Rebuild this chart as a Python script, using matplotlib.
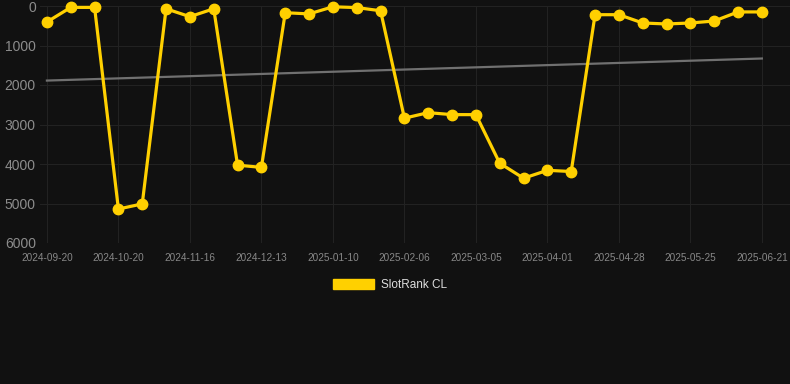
import numpy as np
import matplotlib
matplotlib.use("Agg")
import matplotlib.pyplot as plt
from matplotlib.patches import Patch

# Rank values (lower = better), one per observation
ranks = [405, 35, 35, 5140, 5010, 70, 270, 70, 4030, 4085,
         170, 200, 20, 40, 120, 2840, 2700, 2750, 2750, 3980,
         4360, 4160, 4190, 220, 220, 430, 455, 430, 380, 150, 150]
date_labels = ["2024-09-20", "2024-10-20", "2024-11-16", "2024-12-13",
               "2025-01-10", "2025-02-06", "2025-03-05", "2025-04-01",
               "2025-04-28", "2025-05-25", "2025-06-21"]
label_every = 3
y_ticks = [0, 1000, 2000, 3000, 4000, 5000, 6000]
series_name = "SlotRank CL"

BG = "#111111"
GOLD = "#FFD000"

plt.rcParams["font.family"] = ["Liberation Sans", "DejaVu Sans"]

fig = plt.figure(figsize=(7.9, 3.84), dpi=100, facecolor=BG)
ax = fig.add_axes([40 / 790, 1 - 243 / 384, 750 / 790, 237 / 384])
ax.set_facecolor(BG)

x = np.arange(len(ranks))
y = np.array(ranks, dtype=float)

# trend line (linear fit)
k, b = np.polyfit(x, y, 1)
ax.plot(x, k * x + b, color="#707070", lw=1.6, zorder=2)

ax.plot(x, y, color=GOLD, lw=2.3, marker="o", markersize=7.5,
        markerfacecolor=GOLD, markeredgecolor=GOLD, zorder=3, clip_on=False)

ax.set_ylim(6000, 0)
ax.set_xlim(-0.29, 31.18)
ax.set_yticks(y_ticks)
ax.set_yticklabels([str(t) for t in y_ticks], fontsize=10, color="#8c8c8c")
ax.set_xticks(x[::label_every])
ax.set_xticklabels(date_labels, fontsize=7.2, color="#888888")
ax.tick_params(axis="both", length=0)
ax.tick_params(axis="x", pad=7)
ax.tick_params(axis="y", pad=3)

ax.grid(True, color="#222222", lw=0.8)
ax.set_axisbelow(True)
for s in ax.spines.values():
    s.set_visible(False)

fig.legend(handles=[Patch(facecolor=GOLD, edgecolor=GOLD, label=series_name)],
           loc="center", bbox_to_anchor=(390 / 790, 1 - 285 / 384),
           frameon=False, fontsize=8.5, labelcolor="#dddddd",
           handlelength=3.4, handleheight=0.9, handletextpad=0.6)

fig.savefig("out.png", dpi=100, facecolor=BG)
